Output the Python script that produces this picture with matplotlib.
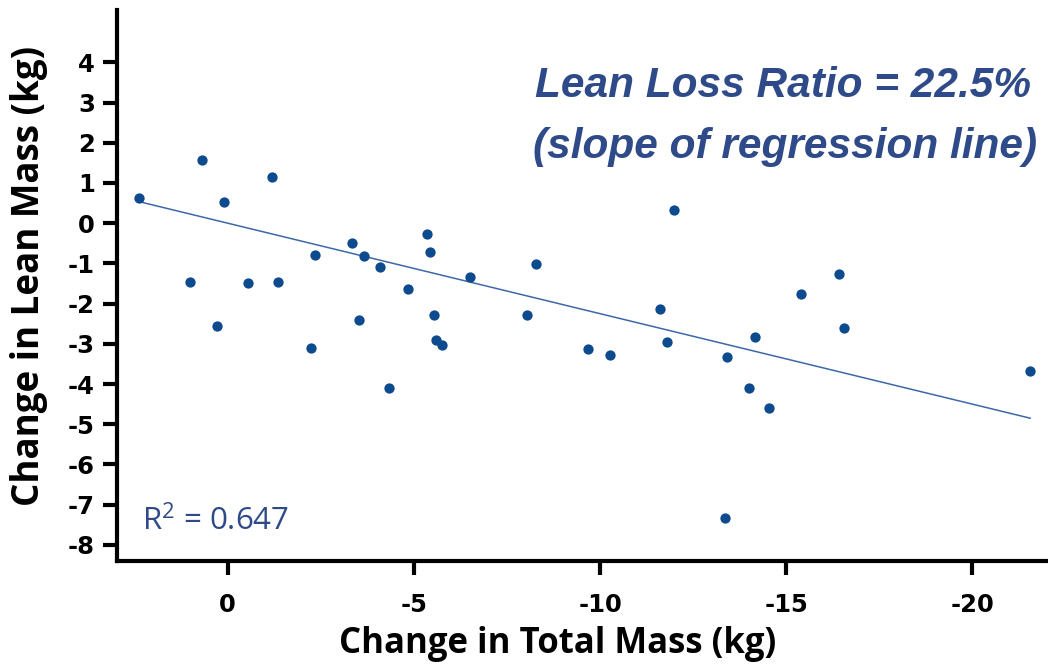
import numpy as np
import matplotlib
matplotlib.use("Agg")
import matplotlib.pyplot as plt

# change in total mass (kg) and change in lean mass (kg)
total_change = [2.38, 0.69, 0.09, -1.20, 1.01, 0.28, -0.55, -1.36, -2.35, -2.24,
                -3.35, -3.66, -3.53, -4.10, -4.34, -4.85, -5.36, -5.44, -5.55, -5.60,
                -5.77, -6.52, -8.05, -8.27, -9.69, -10.28, -11.60, -11.80, -12.00, -13.40,
                -13.35, -14.00, -14.15, -14.53, -15.39, -16.41, -16.55, -21.55]
lean_change = [0.63, 1.57, 0.53, 1.15, -1.46, -2.55, -1.48, -1.46, -0.79, -3.10,
               -0.49, -0.82, -2.42, -1.09, -4.09, -1.63, -0.27, -0.71, -2.28, -2.90,
               -3.02, -1.33, -2.28, -1.01, -3.12, -3.29, -2.13, -2.95, 0.33, -3.34,
               -7.32, -4.11, -2.84, -4.59, -1.75, -1.26, -2.60, -3.67]

# regression line from the chart
slope = 0.225
intercept = 0.0
r_squared = 0.647

y_ticks = [4, 3, 2, 1, 0, -1, -2, -3, -4, -5, -6, -7, -8]
x_ticks = [0, -5, -10, -15, -20]

point_color = "#0E4A8E"
text_color = "#2E4A88"

plt.rcParams["axes.unicode_minus"] = False
plt.rcParams["mathtext.fontset"] = "custom"
plt.rcParams["mathtext.rm"] = "Open Sans"

fig = plt.figure(figsize=(10.48, 6.64), dpi=100)
ax = fig.add_axes([117 / 1048, 103 / 664, 1 - 117 / 1048, 551 / 664])

ax.scatter(total_change, lean_change, s=55, color=point_color, zorder=3, linewidths=0)

# regression line across the data range
x_line = np.array([max(total_change), min(total_change)])
ax.plot(x_line, slope * x_line + intercept, color="#3D68A8", lw=1.1, zorder=2)

ax.set_xlim(2.97, -22.03)
ax.set_ylim(-8.4, 5.3)
ax.set_xticks(x_ticks)
ax.set_yticks(y_ticks)

for s in ["top", "right"]:
    ax.spines[s].set_visible(False)
for s in ["left", "bottom"]:
    ax.spines[s].set_linewidth(3.0)

ax.tick_params(axis="both", direction="out", length=10, width=3.0)
ax.tick_params(axis="y", pad=6)
ax.tick_params(axis="x", pad=13)
for lab in ax.get_xticklabels() + ax.get_yticklabels():
    lab.set_family("DejaVu Sans")
    lab.set_fontweight("bold")
    lab.set_fontsize(17.5)

ax.set_xlabel("Change in Total Mass (kg)", family="Open Sans", fontweight="bold",
              fontsize=25)
ax.xaxis.set_label_coords(558 / 1048, 1 - 653 / 664, transform=fig.transFigure)
ax.xaxis.label.set_va("baseline")

ax.set_ylabel("Change in Lean Mass (kg)", family="Open Sans", fontweight="bold",
              fontsize=26.5)
ax.yaxis.set_label_coords(39 / 1048, 1 - 276 / 664, transform=fig.transFigure)
ax.yaxis.label.set_va("baseline")

ax.text(142 / 1048, 1 - 530 / 664, r"R$^2$ = 0.647", transform=fig.transFigure,
        family="Open Sans", fontsize=22.5, color=text_color, ha="left", va="baseline")

fig.text(535 / 1048, 1 - 97 / 664, "Lean Loss Ratio = 22.5%", family="Liberation Sans",
         fontweight="bold", style="italic", fontsize=30.5, color=text_color,
         ha="left", va="baseline")
fig.text(533 / 1048, 1 - 158 / 664, "(slope of regression line)", family="Liberation Sans",
         fontweight="bold", style="italic", fontsize=30.5, color=text_color,
         ha="left", va="baseline")

fig.savefig("out.png", dpi=100, facecolor="white")
